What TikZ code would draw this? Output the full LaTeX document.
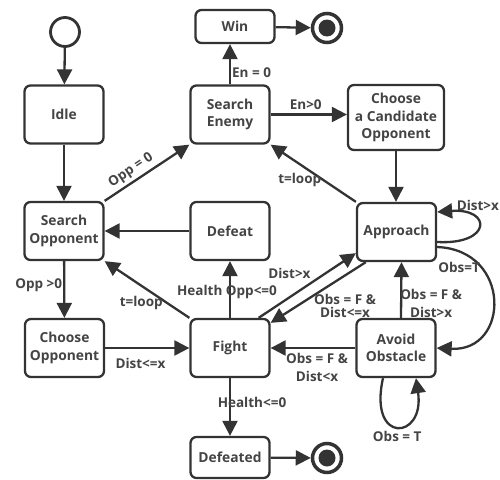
\documentclass[tikz,border=0pt]{standalone}
\usepackage{fontspec}
\setmainfont{Open Sans}
\usetikzlibrary{arrows.meta}
\definecolor{ink}{HTML}{333333}
\definecolor{txt}{HTML}{444444}

\begin{document}
\begin{tikzpicture}[x=1pt,y=-1pt,
	state/.style={draw=ink, line width=2.3pt, rounded corners=6pt, minimum width=79pt, minimum height=58pt, align=center, text=txt, font=\bfseries\fontsize{13.8}{17.5}\selectfont, inner sep=1pt},
	trans/.style={draw=ink, line width=2.3pt, -{Triangle[length=15pt,width=15pt]}},
	lbl/.style={text=txt, font=\bfseries\fontsize{13.5}{18}\selectfont, align=center, inner sep=1pt},
	startstate/.style={circle, draw=ink, line width=2.8pt, minimum size=29pt, inner sep=0pt},
	endstate/.style={circle, draw=ink, line width=3.5pt, minimum size=29pt, inner sep=0pt,
		path picture={\fill[ink] (path picture bounding box.center) circle (8.5pt);}}
	]
	
	\useasboundingbox (0,0) rectangle (500,479);
	
	% States
	\node[startstate] (start) at (65,32) {};
	\node[state] (idle) at (64,114.5) {Idle};
	\node[state] (searchopp) at (64,231) {Search\\Opponent};
	\node[state] (chooseopp) at (64.5,348) {Choose\\Opponent};
	\node[state] (searchen) at (230,114.5) {Search\\Enemy};
	\node[state, minimum height=33pt] (win) at (235,26.5) {Win};
	\node[endstate] (winend) at (327,28) {};
	\node[state, minimum width=96pt, minimum height=65pt] (candidate) at (396,117.5) {Choose\\a Candidate\\Opponent};
	\node[state] (approach) at (396.5,232) {Approach};
	\node[state] (defeat) at (230,231) {Defeat};
	\node[state] (fight) at (230,348) {Fight};
	\node[state] (avoid) at (396,348) {Avoid\\Obstacle};
	\node[state, minimum height=41pt] (defeated) at (230,457.5) {Defeated};
	\node[endstate] (defeatedend) at (327,458) {};
	
	% Left column
	\draw[trans] (start) -- (idle);
	\draw[trans] (idle) -- (searchopp);
	\draw[trans] (searchopp) -- (chooseopp)
		node[lbl, left, pos=0.42] {Opp >0};
	\draw[trans] (chooseopp) -- (fight)
		node[lbl, below=8pt, pos=0.42] {Dist<=x};
	\draw[trans] (fight.north west) -- (searchopp.south east)
		node[lbl, pos=0.45, xshift=-10pt, yshift=-10.5pt] {t=loop};
	\draw[trans] (defeat) -- (searchopp);
	\draw[trans] (searchopp.north east) -- (searchen.south west)
		node[lbl, sloped, above=2pt, pos=0.38] {Opp = 0};
	
	% Top
	\draw[trans] (searchen.north) -- (searchen.north |- win.south)
		node[lbl, right, pos=0.3] {En = 0};
	\draw[trans] (win) -- (winend);
	\draw[trans] (searchen.east) -- (searchen.east -| candidate.west)
		node[lbl, above=3pt, midway, xshift=-3pt] {En>0};
	\draw[trans] (candidate) -- (candidate |- approach.north);
	\draw[trans] (approach.north west) -- (searchen.south east)
		node[lbl, pos=0.5, xshift=-13.5pt, yshift=-6.5pt] {t=loop};
	
	% Fight
	\draw[trans] (fight) -- (defeat)
		node[lbl, pos=0.46, xshift=-3pt] {Health Opp<=0};
	\draw[trans] (fight) -- (defeated)
		node[lbl, pos=0.42, xshift=22pt] {Health<=0};
	\draw[trans] (defeated) -- (defeatedend);
	\draw[trans] ([xshift=-12pt]fight.north east) -- ([yshift=9pt]approach.south west)
		node[lbl, pos=0.44, xshift=-12pt, yshift=16pt] {Dist>x};
	\draw[trans] ([xshift=10pt]approach.south west) -- ([yshift=-5pt]fight.north east)
		node[lbl, pos=0.25, xshift=3pt, yshift=-29pt, font=\bfseries\fontsize{13.5}{13}\selectfont] {Obs = F \&\\Dist<=x};
	
	% Avoid obstacle
	\draw[trans] (avoid) -- (fight)
		node[lbl, midway, xshift=4pt, yshift=-19pt] {Obs = F \&\\Dist<x};
	\draw[trans] ([xshift=5pt]avoid.north) -- ([xshift=5pt]approach.south)
		node[lbl, pos=0.25, xshift=30pt] {Obs = F \&\\Dist>x};
	\draw[trans] ([yshift=-15pt]approach.east) .. controls (512,250) and (510,352) .. (avoid.east)
		node[lbl, pos=0, xshift=22pt, yshift=-20pt] {Obs=T};
	\draw[trans] ([yshift=-10pt]approach.east) .. controls (492,245) and (492,208) .. ([yshift=20pt]approach.east)
		node[lbl, anchor=east, pos=1, xshift=64pt, yshift=7pt] {Dist>x};
	\draw[trans] ([xshift=-13pt]avoid.south) .. controls (368,445) and (425,440) .. ([xshift=20pt]avoid.south)
		node[lbl, pos=0.5, below=3pt] {Obs = T};
	
\end{tikzpicture}
\end{document}
